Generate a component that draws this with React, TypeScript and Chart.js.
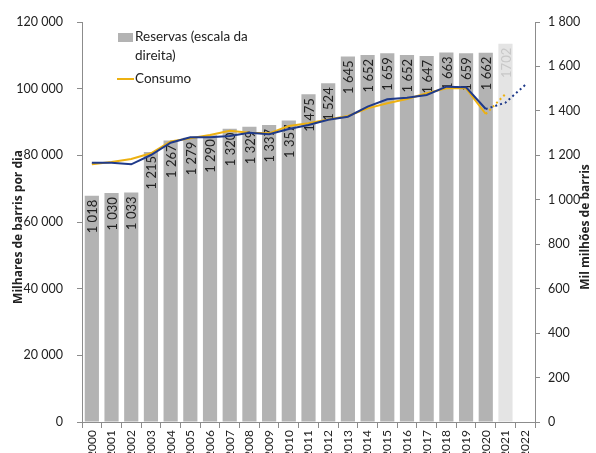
import React, { useEffect, useRef } from "react";
import { Chart, registerables } from "chart.js";
Chart.register(...registerables);

const years = ["2000","2001","2002","2003","2004","2005","2006","2007","2008","2009","2010","2011","2012","2013","2014","2015","2016","2017","2018","2019","2020","2021","2022"];
const reserves: (number | null)[] = [1018,1030,1033,1215,1267,1279,1290,1320,1329,1337,1357,1475,1524,1645,1652,1659,1652,1647,1663,1659,1662,1702,null];
const reserveLabels = ["1 018","1 030","1 033","1 215","1 267","1 279","1 290","1 320","1 329","1 337","1 357","1 475","1 524","1 645","1 652","1 659","1 652","1 647","1 663","1 659","1 662","1702",""];
const consumo: (number | null)[] = [77300,78000,78900,80600,84150,85100,86100,87400,86800,86600,88800,89600,90750,91800,94100,95600,96900,98600,100100,100100,92400,98400,null];
const producao: (number | null)[] = [77800,77800,77300,80100,83800,85400,85400,85800,86800,86300,87900,89100,90700,91600,94600,96800,97300,98100,100600,100400,93900,95800,101100];
const leftTitle = "Milhares de barris por dia";
const rightTitle = "Mil milhões de barris";
const legendReservas = ["Reservas (escala da", "direita)"];
const legendConsumo = "Consumo";

const FONT = "Lato, 'Open Sans', sans-serif";
const TITLE_FONT = "'Open Sans', Lato, sans-serif";
const BAR = "#B3B3B3";
const BAR_LIGHT = "#E4E4E4";
const YELLOW = "#EDB111";
const BLUE = "#1F3A8A";
const AXIS = "#8C8C8C";

const fmt = (v: number) => String(v).replace(/\B(?=(\d{3})+(?!\d))/g, " ");

export default function App() {
  const ref = useRef<HTMLCanvasElement | null>(null);
  useEffect(() => {
    document.body.style.margin = "0";
    const canvas = ref.current!;
    const labelsPlugin = {
      id: "barLabels",
      afterDatasetDraw(chart: any, args: any) {
        if (args.index !== 0) return;
        const ctx = chart.ctx;
        const meta = chart.getDatasetMeta(0);
        ctx.save();
        ctx.font = `13px ${FONT}`;
        meta.data.forEach((el: any, i: number) => {
          const t = reserveLabels[i];
          if (!t || reserves[i] == null) return;
          ctx.save();
          ctx.translate(el.x, el.y + 4);
          ctx.rotate(-Math.PI / 2);
          ctx.textAlign = "right";
          ctx.textBaseline = "middle";
          ctx.fillStyle = i === 21 ? "#C8C8C8" : "#222";
          ctx.fillText(t, 0, 1);
          ctx.restore();
        });
        ctx.restore();
      },
      afterDraw(chart: any) {
        const ctx = chart.ctx;
        const area = chart.chartArea;
        ctx.save();
        // legend
        ctx.fillStyle = BAR;
        ctx.fillRect(118, 33, 15, 9);
        ctx.font = `13.5px ${FONT}`;
        ctx.fillStyle = "#222";
        ctx.textAlign = "left";
        ctx.textBaseline = "middle";
        ctx.fillText(legendReservas[0], 135, 37);
        ctx.fillText(legendReservas[1], 135, 56);
        ctx.strokeStyle = YELLOW;
        ctx.lineWidth = 2;
        ctx.beginPath();
        ctx.moveTo(117, 79);
        ctx.lineTo(134, 79);
        ctx.stroke();
        ctx.fillText(legendConsumo, 135, 79);
        // axis titles
        ctx.font = `bold 12px ${TITLE_FONT}`;
        ctx.textAlign = "center";
        const cy = (area.top + area.bottom) / 2 + 5;
        ctx.save();
        ctx.translate(19, cy);
        ctx.rotate(-Math.PI / 2);
        ctx.fillText(leftTitle, 0, 0);
        ctx.restore();
        ctx.save();
        ctx.translate(586, cy);
        ctx.rotate(-Math.PI / 2);
        ctx.fillText(rightTitle, 0, 0);
        ctx.restore();
        ctx.restore();
      },
    };
    const dash = (c: any) => (c.p0DataIndex >= 20 ? [2, 3] : undefined);
    const chart = new Chart(canvas, {
      type: "bar",
      data: {
        labels: years,
        datasets: [
          {
            type: "bar",
            label: "Reservas (escala da direita)",
            data: reserves,
            yAxisID: "yR",
            backgroundColor: reserves.map((_, i) => (i === 21 ? BAR_LIGHT : BAR)),
            barPercentage: 0.72,
            categoryPercentage: 1,
            order: 3,
          },
          {
            type: "line",
            label: "Consumo",
            data: consumo,
            yAxisID: "yL",
            borderColor: YELLOW,
            borderWidth: 2,
            pointRadius: 0,
            tension: 0,
            segment: { borderDash: dash },
            order: 2,
          },
          {
            type: "line",
            label: "Produção",
            data: producao,
            yAxisID: "yL",
            borderColor: BLUE,
            borderWidth: 2,
            pointRadius: 0,
            tension: 0,
            segment: { borderDash: dash },
            order: 1,
          },
        ] as any,
      },
      options: {
        responsive: true,
        maintainAspectRatio: false,
        animation: false,
        layout: { padding: { top: 22, left: 0, right: 0, bottom: 0 } },
        plugins: { legend: { display: false }, tooltip: { enabled: false } },
        scales: {
          x: {
            grid: { offset: true, drawOnChartArea: false, tickLength: 6, color: AXIS },
            border: { color: AXIS },
            ticks: { minRotation: 90, maxRotation: 90, autoSkip: false, padding: 2, color: "#222", font: { family: FONT, size: 12 } },
            afterFit: (s: any) => { s.height = 31; },
          },
          yL: {
            position: "left",
            min: 0,
            max: 120000,
            grid: { drawOnChartArea: false, tickLength: 5, color: AXIS },
            border: { color: AXIS },
            ticks: { stepSize: 20000, padding: 14, color: "#222", font: { family: FONT, size: 12.5 }, callback: (v: any) => fmt(Number(v)) },
            afterFit: (s: any) => { s.width = 82; },
          },
          yR: {
            position: "right",
            min: 0,
            max: 1800,
            grid: { drawOnChartArea: false, tickLength: 5, color: AXIS },
            border: { color: AXIS },
            ticks: { stepSize: 200, padding: 8, color: "#222", font: { family: FONT, size: 12.5 }, callback: (v: any) => fmt(Number(v)) },
            afterFit: (s: any) => { s.width = 61; },
          },
        },
      } as any,
      plugins: [labelsPlugin],
    });
    return () => chart.destroy();
  }, []);
  return (
    <div style={{ position: "absolute", left: 0, top: 0, width: 596, height: 453, background: "#fff" }}>
      <canvas ref={ref} />
    </div>
  );
}
